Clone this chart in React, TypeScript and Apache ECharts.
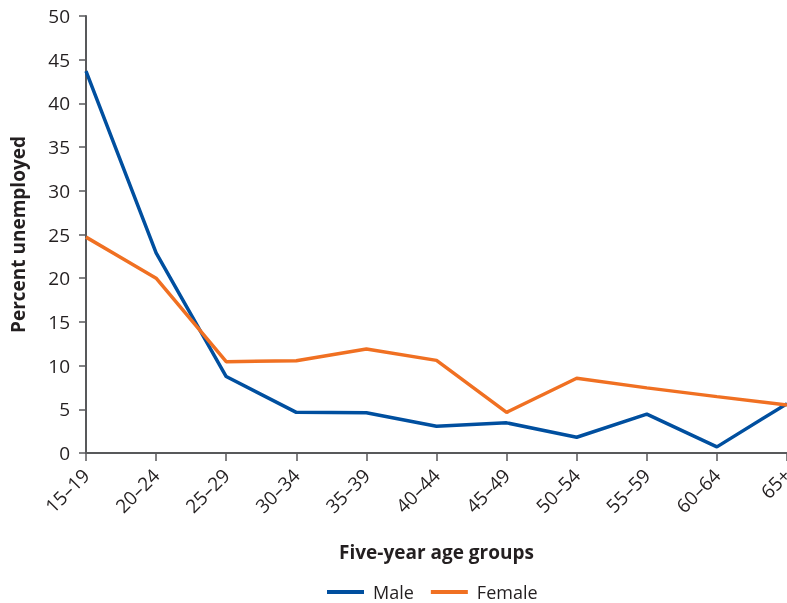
import React, { useEffect, useRef } from "react";
import * as echarts from "echarts";

const categories = ["15–19", "20–24", "25–29", "30–34", "35–39", "40–44", "45–49", "50–54", "55–59", "60–64", "65+"];
const maleValues = [43.7, 22.9, 8.75, 4.65, 4.6, 3.05, 3.45, 1.8, 4.45, 0.7, 5.65];
const femaleValues = [24.7, 20.0, 10.45, 10.55, 11.9, 10.6, 4.65, 8.55, 7.45, 6.45, 5.5];
const seriesNames = ["Male", "Female"];
const font = "'Open Sans', 'Noto Sans', sans-serif";

export default function App() {
  const ref = useRef<HTMLDivElement>(null);
  useEffect(() => {
    const chart = echarts.init(ref.current!, null, { renderer: "svg" });
    chart.setOption({
      animation: false,
      grid: { left: 86, width: 701, top: 16, bottom: 150, containLabel: false, outerBoundsMode: "none" },
      legend: {
        bottom: -3,
        left: 322,
        itemWidth: 37,
        itemHeight: 4,
        itemGap: 17,
        icon: "rect",
        textStyle: { fontFamily: font, fontSize: 18, color: "#231f20", padding: [0, 0, 0, 4] },
        data: seriesNames,
      },
      xAxis: {
        type: "category",
        data: categories,
        boundaryGap: false,
        name: "Five-year age groups",
        nameLocation: "middle",
        nameGap: 89,
        nameTextStyle: { fontFamily: font, fontSize: 19, fontWeight: "bold", color: "#231f20" },
        axisLine: { lineStyle: { color: "#58595b", width: 2 } },
        axisTick: { length: 8, lineStyle: { color: "#58595b", width: 1.5 } },
        axisLabel: {
          rotate: 45,
          fontFamily: font,
          fontSize: 19,
          color: "#231f20",
          margin: 19,
          verticalAlign: "middle",
          padding: [33, 0, 0, 0],
        },
        splitLine: { show: false },
      },
      yAxis: {
        type: "value",
        min: 0,
        max: 50,
        interval: 5,
        name: "Percent unemployed",
        nameLocation: "middle",
        nameGap: 59,
        nameTextStyle: { fontFamily: font, fontSize: 19, fontWeight: "bold", color: "#231f20" },
        axisLine: { show: true, lineStyle: { color: "#58595b", width: 2 } },
        axisTick: { show: true, length: 7, lineStyle: { color: "#58595b", width: 1.5 } },
        axisLabel: { fontFamily: font, fontSize: 19, color: "#231f20", margin: 16 },
        splitLine: { show: false },
      },
      series: [
        {
          name: seriesNames[0],
          type: "line",
          data: maleValues,
          symbol: "none",
          itemStyle: { color: "#004f9f" },
          lineStyle: { color: "#004f9f", width: 3.5 },
        },
        {
          name: seriesNames[1],
          type: "line",
          data: femaleValues,
          symbol: "none",
          itemStyle: { color: "#f07022" },
          lineStyle: { color: "#f07022", width: 3.5 },
        },
      ],
    });
    return () => chart.dispose();
  }, []);
  return <div ref={ref} style={{ position: "fixed", left: 0, top: 0, width: 787, height: 603 }} />;
}
